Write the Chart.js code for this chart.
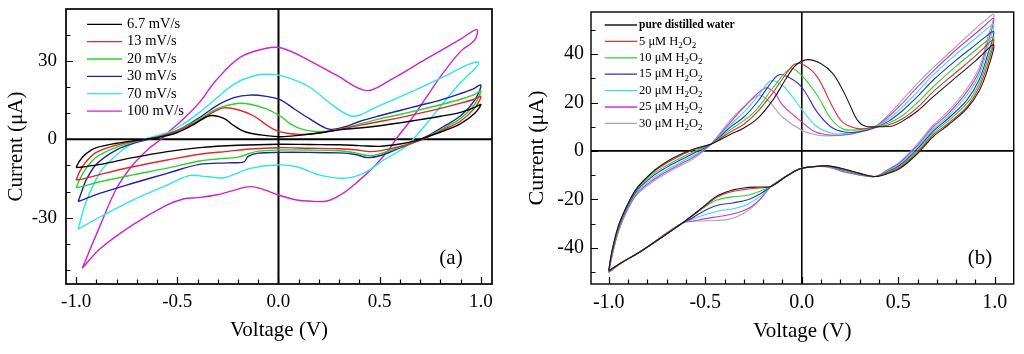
<!DOCTYPE html>
<html>
<head>
<meta charset="utf-8">
<script src="https://cdn.jsdelivr.net/npm/chart.js@4.4.1/dist/chart.umd.min.js"></script>
<style>
  body { margin: 0; background: #fff; width: 1024px; height: 354px; overflow: hidden; position: relative; }
  canvas { position: absolute; top: 0; }
  #cvA { left: 0; }
  #cvB { left: 512px; }
</style>
</head>
<body>
<canvas id="cvA" width="512" height="354"></canvas>
<canvas id="cvB" width="512" height="354"></canvas>
<script>
// ---- panel (a): scan rates ----
const rateLabels = ['6.7 mV/s', '13 mV/s', '20 mV/s', '30 mV/s', '70 mV/s', '100 mV/s'];
const rateColors = ['#000000', '#e02828', '#2ad42a', '#2020a8', '#28e8e8', '#d020d0'];

// each loop: forward scan (-1 -> +1) then reverse scan back
const voltA_67 = [-1.0,-0.985,-0.95,-0.9,-0.8,-0.7,-0.6,-0.5,-0.42,-0.34,-0.27,-0.22,-0.158,-0.06,0.01,0.1,0.2,0.3,0.4,0.5,0.6,0.7,0.8,0.9,0.97,1.0, 0.97,0.9,0.81,0.73,0.68,0.6,0.5,0.4,0.3,0.15,0.0,-0.2,-0.39,-0.55,-0.72,-0.88,-0.97,-1.0];
const currA_67 = [-10.8,-8.5,-5.4,-3.2,-1.5,-0.4,0.6,2.6,5.6,9.0,8.0,5.2,2.7,1.4,1.0,1.5,2.4,3.6,4.3,5.2,6.3,7.5,8.8,10.3,12.2,13.3, 10,6,3,0.8,-0.5,-1.8,-2.7,-2.4,-2.1,-2.0,-1.9,-2.3,-3.2,-4.7,-7.0,-9.6,-10.6,-10.8];

const voltA_13 = [-1.0,-0.98,-0.95,-0.9,-0.8,-0.7,-0.6,-0.5,-0.4,-0.32,-0.27,-0.2,-0.125,-0.026,0.05,0.12,0.2,0.3,0.4,0.5,0.6,0.7,0.8,0.9,0.97,1.0, 0.97,0.9,0.81,0.73,0.67,0.6,0.5,0.45,0.38,0.3,0.15,0.0,-0.14,-0.25,-0.39,-0.55,-0.72,-0.88,-0.97,-1.0];
const currA_13 = [-15.6,-12,-8.5,-5,-2.2,-0.6,0.8,3.3,6.8,10.5,12,11.3,9.0,3.9,2.2,1.9,2.4,3.8,5.3,6.8,8.3,10,11.8,13.8,15.4,16.4, 12,7,3.5,0.6,-1.2,-2.7,-4.4,-4.7,-4.0,-3.6,-3.4,-3.2,-3.7,-4.6,-5.7,-7.9,-10.5,-13.4,-15.2,-15.6];

const voltA_20 = [-1.0,-0.98,-0.95,-0.9,-0.8,-0.7,-0.6,-0.5,-0.4,-0.3,-0.207,-0.14,-0.06,0.01,0.06,0.12,0.2,0.3,0.4,0.5,0.6,0.7,0.8,0.9,0.97,1.0, 0.97,0.9,0.81,0.73,0.66,0.6,0.5,0.45,0.38,0.3,0.15,0.0,-0.1,-0.15,-0.2,-0.3,-0.39,-0.55,-0.72,-0.88,-0.97,-1.0];
const currA_20 = [-18.5,-15,-11,-6.8,-3,-0.8,0.9,3.4,7.3,11.8,13.7,13.4,11.6,8.8,5.8,3.8,2.9,3.7,5.8,7.8,9.5,11.3,13.2,15.3,17.2,18.6, 13.5,8,4,0.8,-1.5,-3,-5.6,-6.3,-5.2,-4.4,-4.1,-4.1,-4.5,-5.6,-6.8,-7.5,-8.3,-11.0,-13.6,-16.2,-18.0,-18.5];

const voltA_30 = [-0.99,-0.97,-0.95,-0.9,-0.8,-0.7,-0.6,-0.5,-0.4,-0.306,-0.22,-0.14,-0.06,0.01,0.08,0.155,0.25,0.33,0.4,0.5,0.6,0.7,0.8,0.9,0.96,1.0, 0.97,0.9,0.81,0.73,0.66,0.6,0.5,0.44,0.38,0.3,0.15,0.0,-0.1,-0.15,-0.17,-0.25,-0.39,-0.55,-0.72,-0.88,-0.99];
const currA_30 = [-23.8,-19.5,-15.5,-9.5,-4,-1.2,0.8,3.3,7.8,12.8,15.9,16.9,16.4,15.1,11.5,7.8,3.9,4.8,6.8,9,11,13,15,17.5,19.2,20.7, 15,9,4.6,1,-1.5,-3.3,-6.3,-7,-5.8,-5.2,-5.0,-5.0,-5.3,-6.5,-8.6,-9.0,-9.6,-13,-16.8,-20.6,-23.8];

const voltA_70 = [-0.99,-0.95,-0.88,-0.8,-0.72,-0.65,-0.55,-0.47,-0.39,-0.31,-0.22,-0.12,-0.03,0.05,0.155,0.27,0.37,0.48,0.65,0.81,0.945,0.99, 0.97,0.9,0.81,0.73,0.665,0.616,0.52,0.42,0.32,0.2,0.09,-0.01,-0.14,-0.27,-0.36,-0.44,-0.55,-0.72,-0.88,-0.99];
const currA_70 = [-34.3,-23.8,-12.4,-6,-1.5,0.4,2.5,5.9,10.3,15.4,21.1,24.3,24.8,23.5,19.9,12.9,8.8,12.2,17.9,23.7,28.8,29.4, 27,21.7,13.5,5.8,0,-3.5,-7.9,-13,-14.9,-13.6,-10.5,-9.8,-11.1,-14.7,-14.2,-13.9,-17.5,-23.2,-29.6,-34.3];

const voltA_100 = [-0.97,-0.88,-0.8,-0.72,-0.64,-0.58,-0.55,-0.47,-0.39,-0.31,-0.19,-0.06,0.02,0.155,0.29,0.435,0.56,0.73,0.9,0.98, 0.97,0.9,0.81,0.73,0.65,0.58,0.55,0.48,0.40,0.32,0.24,0.15,0.09,0.0,-0.07,-0.14,-0.22,-0.31,-0.4,-0.47,-0.55,-0.72,-0.88,-0.97];
const currA_100 = [-49.3,-32.7,-18.7,-9.8,-3.5,0,2.3,7.8,14.1,22.4,31.3,34.8,34.8,30,24.3,18.6,23,30.7,38.3,41.9, 38,33.6,25,16,7,0,-3.5,-9.8,-15.6,-20.6,-23.6,-23.6,-23.2,-21.3,-19.3,-18.1,-19.5,-21.3,-22.3,-22.8,-25.1,-32.7,-41.7,-49.3];

// ---- panel (b): H2O2 concentration ----
const concLabels = ['pure distilled water', '5 μM H_2O_2', '10 μM H_2O_2', '15 μM H_2O_2', '20 μM H_2O_2', '25 μM H_2O_2', '30 μM H_2O_2'];
const concColors = ['#1a1a1a', '#e03030', '#30d030', '#3030c0', '#30e0e0', '#d030d0', '#a8a8a8'];

const voltB_0 = [-1.0,-0.985,-0.95,-0.9,-0.85,-0.77,-0.7,-0.63,-0.56,-0.47,-0.37,-0.3,-0.23,-0.15,-0.08,-0.03,0.03,0.1,0.16,0.21,0.25,0.29,0.33,0.4,0.47,0.52,0.6,0.68,0.8,0.9,0.94,0.995, 0.96,0.92,0.855,0.76,0.68,0.6,0.51,0.44,0.38,0.3,0.22,0.13,0.05,-0.01,-0.08,-0.16,-0.22,-0.3,-0.36,-0.44,-0.52,-0.62,-0.835,-0.93,-1.0];
const currB_0 = [-49.5,-42,-31,-21.7,-15,-8.5,-4.5,-1.5,0.8,2.8,6.8,9.5,13.3,21,30,35.5,37.7,36,32,25.5,18.9,12.5,10.2,10,10.3,12.2,16.5,22.3,30.5,37.2,40.2,43.8, 33,25,17.5,10.8,5.8,-1.1,-7.2,-9.5,-10.6,-9.3,-7.5,-6.2,-6.6,-7.4,-10.5,-14.7,-14.9,-15.3,-16.2,-18.7,-23.7,-29.9,-41.6,-46,-49.5];

const voltB_5 = [-1.0,-0.985,-0.95,-0.9,-0.85,-0.77,-0.7,-0.63,-0.56,-0.47,-0.37,-0.3,-0.23,-0.15,-0.08,-0.035,0.01,0.08,0.16,0.21,0.29,0.36,0.45,0.52,0.6,0.68,0.8,0.9,0.94,0.995, 0.96,0.92,0.855,0.76,0.68,0.6,0.51,0.44,0.38,0.3,0.22,0.13,0.05,-0.01,-0.08,-0.16,-0.22,-0.3,-0.37,-0.44,-0.52,-0.62,-0.835,-0.93,-1.0];
const currB_5 = [-49.6,-42,-31,-21.7,-15,-8.8,-5,-2,0.5,2.8,7.8,11,16.1,24,32,35.9,35.6,30.6,18.2,12,9.2,9.6,10.8,13.2,18,24.4,32.5,39.3,42.3,45.9, 35,26.5,18.2,11.5,6.5,-0.5,-6.7,-9.3,-10.6,-9.3,-7.6,-6.2,-6.6,-7.4,-10.5,-14.7,-15.3,-16,-17,-19.2,-24,-29.9,-41.6,-46,-49.6];

const voltB_10 = [-1.0,-0.985,-0.95,-0.9,-0.85,-0.77,-0.7,-0.63,-0.56,-0.47,-0.37,-0.3,-0.23,-0.15,-0.06,-0.01,0.08,0.15,0.21,0.27,0.35,0.45,0.52,0.6,0.68,0.8,0.9,0.94,0.995, 0.96,0.92,0.855,0.76,0.68,0.6,0.51,0.44,0.38,0.3,0.22,0.13,0.05,-0.01,-0.08,-0.16,-0.21,-0.28,-0.36,-0.44,-0.51,-0.57,-0.62,-0.835,-0.93,-1.0];
const currB_10 = [-49.7,-42.5,-31.5,-22,-15.5,-9.5,-6,-3,-0.3,2.8,8.8,12.5,17.5,26,34,31.9,23,13.4,9.2,8.6,9.4,11.5,14.5,20,26.4,35,41.6,44.3,47, 37,28,19.6,12.5,7.3,0.2,-6.3,-9,-10.6,-9.4,-7.8,-6.3,-6.6,-7.4,-10.5,-14.7,-16.5,-18.3,-19,-20.3,-23.5,-27,-29.9,-41.6,-46,-49.7];

const voltB_15 = [-1.0,-0.985,-0.95,-0.9,-0.85,-0.77,-0.7,-0.63,-0.56,-0.47,-0.37,-0.3,-0.23,-0.17,-0.12,-0.07,0.0,0.08,0.15,0.22,0.3,0.38,0.45,0.52,0.6,0.68,0.8,0.9,0.94,0.995, 0.96,0.92,0.855,0.76,0.68,0.6,0.51,0.44,0.38,0.3,0.22,0.13,0.05,-0.01,-0.08,-0.16,-0.21,-0.28,-0.36,-0.44,-0.51,-0.57,-0.62,-0.835,-0.93,-1.0];
const currB_15 = [-49.8,-43,-32,-22.5,-16,-10.3,-6.8,-3.8,-1,2.8,9.8,14,20.2,27,31.4,30.5,26.3,16,10,7.8,7.9,9.6,12.3,16.5,22.5,29.2,37.5,43.8,46.4,49.2, 39,29.5,21,13.5,8.1,0.9,-5.8,-8.8,-10.6,-9.5,-8,-6.3,-6.6,-7.4,-10.5,-14.7,-17.5,-20.2,-21.5,-22.6,-25,-27.8,-29.9,-41.6,-46,-49.8];

const voltB_20 = [-1.0,-0.985,-0.95,-0.9,-0.85,-0.77,-0.7,-0.63,-0.56,-0.47,-0.37,-0.3,-0.23,-0.16,-0.1,-0.05,0.0,0.07,0.16,0.25,0.32,0.38,0.45,0.52,0.6,0.68,0.8,0.9,0.94,0.995, 0.96,0.92,0.855,0.76,0.68,0.6,0.51,0.44,0.38,0.3,0.22,0.13,0.05,-0.01,-0.08,-0.16,-0.21,-0.28,-0.35,-0.43,-0.5,-0.56,-0.62,-0.835,-0.93,-1.0];
const currB_20 = [-50,-43.5,-32.5,-23,-16.7,-11.2,-7.8,-4.8,-1.8,2.8,10.8,16,22.3,29,27,22.5,17.2,10.6,7.2,7.4,8.5,10,13.2,18,24.5,31.3,40,46.5,49.2,52.2, 42,31.5,23,14.5,8.9,1.6,-5.3,-8.5,-10.6,-9.7,-8.3,-6.4,-6.6,-7.4,-10.5,-14.7,-18.5,-22,-23.8,-24.8,-26.3,-28,-29.9,-41.6,-46,-50];

const voltB_25 = [-1.0,-0.985,-0.95,-0.9,-0.85,-0.77,-0.7,-0.63,-0.56,-0.47,-0.37,-0.3,-0.19,-0.14,-0.1,0.0,0.07,0.16,0.25,0.32,0.38,0.45,0.52,0.6,0.68,0.8,0.9,0.94,0.995, 0.96,0.92,0.855,0.76,0.68,0.6,0.51,0.44,0.38,0.3,0.22,0.13,0.05,-0.01,-0.08,-0.16,-0.21,-0.27,-0.34,-0.42,-0.5,-0.56,-0.62,-0.835,-0.93,-1.0];
const currB_25 = [-50.2,-44,-33,-23.5,-17.2,-12,-8.5,-5.5,-2.5,2.8,11.8,18,26,24,18.9,12,7.8,6.5,7,8.3,10,14.2,19.5,26.5,32.9,41.8,48.5,51.2,54.7, 44,33,24.4,15.5,9.8,2.3,-4.8,-8.2,-10.6,-9.9,-8.6,-6.5,-6.6,-7.4,-10.5,-14.7,-19.5,-23.5,-25.8,-27,-28,-29,-29.9,-41.6,-46,-50.2];

const voltB_30 = [-1.0,-0.985,-0.95,-0.9,-0.85,-0.77,-0.7,-0.63,-0.56,-0.47,-0.37,-0.3,-0.22,-0.17,-0.1,0.0,0.07,0.14,0.25,0.32,0.38,0.45,0.52,0.6,0.68,0.8,0.9,0.94,0.995, 0.96,0.92,0.855,0.76,0.68,0.6,0.51,0.44,0.38,0.3,0.22,0.13,0.05,-0.01,-0.08,-0.16,-0.2,-0.25,-0.3,-0.38,-0.5,-0.62,-0.835,-0.93,-1.0];
const currB_30 = [-50.4,-44.5,-33.5,-24,-17.8,-12.7,-9.2,-6.2,-3.2,2.8,12.7,18.3,23,20.5,14,8.5,6.7,6.2,6.8,8.2,10,15,21,28,34.3,43.2,50.5,53.3,56.3, 46,34.5,25.7,16.5,10.6,3,-4.4,-8,-10.6,-10,-8.8,-6.6,-6.6,-7.4,-10.5,-14.7,-18.5,-22.8,-25.8,-28.3,-28.9,-29.9,-41.6,-46,-50.4];

// ---- axes ----
const xLabelTicks = [-1.0, -0.5, 0.0, 0.5, 1.0];
const xMinorTicks = [-1.0,-0.9,-0.8,-0.7,-0.6,-0.5,-0.4,-0.3,-0.2,-0.1,0,0.1,0.2,0.3,0.4,0.5,0.6,0.7,0.8,0.9,1.0];
const yLabelTicksA = [-30, 0, 30];
const yMinorTicksA = [-50,-40,-30,-20,-10,0,10,20,30,40];
const yLabelTicksB = [-40, -20, 0, 20, 40];
const yMinorTicksB = [-50,-40,-30,-20,-10,0,10,20,30,40,50];

const SERIF = '"Liberation Serif", "Times New Roman", serif';

function loop(volts, currs) {
  return volts.map((v, i) => ({ x: v, y: currs[i] }));
}

function drawRich(ctx, text, x, y, size, weight) {
  const parts = text.split(/(_\d)/).filter(s => s);
  for (const p of parts) {
    if (p[0] === '_') {
      ctx.font = Math.round(size * 0.68) + 'px ' + SERIF;
      ctx.fillText(p.slice(1), x, y + size * 0.32);
      x += ctx.measureText(p.slice(1)).width;
    } else {
      ctx.font = weight + ' ' + size + 'px ' + SERIF;
      ctx.fillText(p, x, y);
      x += ctx.measureText(p).width;
    }
  }
}

// frame, zero lines, inward ticks, legend and panel tag
const cvFrame = {
  id: 'cvFrame',
  beforeDatasetsDraw(chart, args, o) {
    const { ctx, chartArea: a, scales: { x, y } } = chart;
    const x0 = x.getPixelForValue(0), y0 = y.getPixelForValue(0);
    ctx.save();
    ctx.strokeStyle = '#000';
    ctx.lineWidth = o.zeroWidth;
    ctx.beginPath();
    ctx.moveTo(a.left, y0); ctx.lineTo(a.right, y0);
    ctx.moveTo(x0, a.top); ctx.lineTo(x0, a.bottom);
    ctx.stroke();
    ctx.restore();
  },
  afterDraw(chart, args, o) {
    const { ctx, chartArea: a, scales: { x, y } } = chart;
    ctx.save();
    ctx.strokeStyle = '#000';
    ctx.lineWidth = o.frameWidth;
    ctx.strokeRect(a.left, a.top, a.right - a.left, a.bottom - a.top);

    ctx.lineWidth = 1.2;
    ctx.beginPath();
    o.xMinor.forEach(v => {
      const px = Math.round(x.getPixelForValue(v)) + 0.5;
      const len = o.xMajor.some(m => Math.abs(m - v) < 1e-6) ? 7 : 4.5;
      ctx.moveTo(px, a.bottom); ctx.lineTo(px, a.bottom - len);
    });
    o.yMinor.forEach(v => {
      const py = Math.round(y.getPixelForValue(v)) + 0.5;
      const len = o.yMajor.includes(v) ? 7 : 4.5;
      ctx.moveTo(a.left, py); ctx.lineTo(a.left + len, py);
    });
    ctx.stroke();

    // legend
    ctx.textBaseline = 'middle';
    ctx.textAlign = 'left';
    ctx.fillStyle = '#000';
    const L = o.legend;
    chart.data.datasets.forEach((ds, i) => {
      const ry = L.y + i * L.step;
      ctx.strokeStyle = ds.borderColor;
      ctx.lineWidth = 1.3;
      ctx.beginPath();
      ctx.moveTo(L.x0, ry); ctx.lineTo(L.x1, ry);
      ctx.stroke();
      const bold = L.boldFirst && i === 0;
      drawRich(ctx, ds.label, L.tx, ry, bold ? L.size - 1 : L.size, bold ? 'bold' : 'normal');
    });

    ctx.font = o.tag.size + 'px ' + SERIF;
    ctx.textAlign = 'center';
    ctx.fillText(o.tag.text, o.tag.x, o.tag.y);
    ctx.restore();
  }
};

function makePanel(id, c) {
  return new Chart(document.getElementById(id), {
    type: 'scatter',
    data: {
      datasets: c.labels.map((lab, i) => ({
        label: lab,
        data: loop(c.volts[i], c.currs[i]),
        showLine: true,
        borderColor: c.colors[i],
        backgroundColor: c.colors[i],
        borderWidth: c.lineWidth,
        pointRadius: 0,
        tension: 0.35
      }))
    },
    options: {
      responsive: false,
      animation: false,
      events: [],
      layout: { padding: { left: 0, right: c.padRight, top: c.padTop, bottom: 0 } },
      plugins: {
        legend: { display: false },
        tooltip: { enabled: false },
        cvFrame: c.frame
      },
      scales: {
        x: {
          type: 'linear', min: c.xMin, max: c.xMax,
          grid: { display: false, drawTicks: false },
          border: { display: false },
          afterBuildTicks: s => { s.ticks = xLabelTicks.map(v => ({ value: v })); },
          afterFit: s => { s.height = 70; s.paddingLeft = 0; s.paddingRight = 0; },
          ticks: { color: '#000', font: { family: SERIF, size: c.tickSize }, padding: 7, maxRotation: 0, autoSkip: false,
                   callback: v => Number(v).toFixed(1) },
          title: { display: true, text: 'Voltage (V)', color: '#000',
                   font: { family: SERIF, size: 21 }, padding: { top: 0, bottom: c.xTitlePad } }
        },
        y: {
          type: 'linear', min: c.yMin, max: c.yMax,
          grid: { display: false, drawTicks: false },
          border: { display: false },
          afterBuildTicks: s => { s.ticks = c.yLabels.map(v => ({ value: v })); },
          afterFit: s => { s.width = c.yWidth; s.paddingTop = 0; s.paddingBottom = 0; },
          ticks: { color: '#000', font: { family: SERIF, size: c.tickSize }, padding: c.yTickPad, autoSkip: false,
                   callback: v => String(v) },
          title: { display: true, text: 'Current (μA)', color: '#000',
                   font: { family: SERIF, size: c.yTitleSize }, padding: { top: c.yTitlePad, bottom: 0 } }
        }
      }
    },
    plugins: [cvFrame]
  });
}

makePanel('cvA', {
  labels: rateLabels, colors: rateColors, lineWidth: 1.4,
  volts: [voltA_67, voltA_13, voltA_20, voltA_30, voltA_70, voltA_100],
  currs: [currA_67, currA_13, currA_20, currA_30, currA_70, currA_100],
  xMin: -1.05, xMax: 1.055, yMin: -55.3, yMax: 49.8,
  yLabels: yLabelTicksA,
  padRight: 20, padTop: 9, yWidth: 66,
  tickSize: 19, yTickPad: 9, xTitlePad: 11, yTitleSize: 21, yTitlePad: 4,
  frame: {
    zeroWidth: 2, frameWidth: 1.7,
    xMinor: xMinorTicks, xMajor: xLabelTicks, yMinor: yMinorTicksA, yMajor: yLabelTicksA,
    legend: { x0: 87, x1: 122, tx: 127, y: 24.3, step: 17.35, size: 14.5, boldFirst: false },
    tag: { text: '(a)', x: 451, y: 258, size: 21 }
  }
});

makePanel('cvB', {
  labels: concLabels, colors: concColors, lineWidth: 1.1,
  volts: [voltB_0, voltB_5, voltB_10, voltB_15, voltB_20, voltB_25, voltB_30],
  currs: [currB_0, currB_5, currB_10, currB_15, currB_20, currB_25, currB_30],
  xMin: -1.092, xMax: 1.098, yMin: -55, yMax: 57.4,
  yLabels: yLabelTicksB,
  padRight: 10.3, padTop: 12, yWidth: 79,
  tickSize: 20, yTickPad: 7, xTitlePad: 9.7, yTitleSize: 22, yTitlePad: 12,
  frame: {
    zeroWidth: 1.6, frameWidth: 1.4,
    xMinor: xMinorTicks, xMajor: xLabelTicks, yMinor: yMinorTicksB, yMajor: yLabelTicksB,
    legend: { x0: 92.7, x1: 125, tx: 127, y: 25, step: 16.4, size: 12.5, boldFirst: true },
    tag: { text: '(b)', x: 468, y: 258, size: 21 }
  }
});
</script>
</body>
</html>
